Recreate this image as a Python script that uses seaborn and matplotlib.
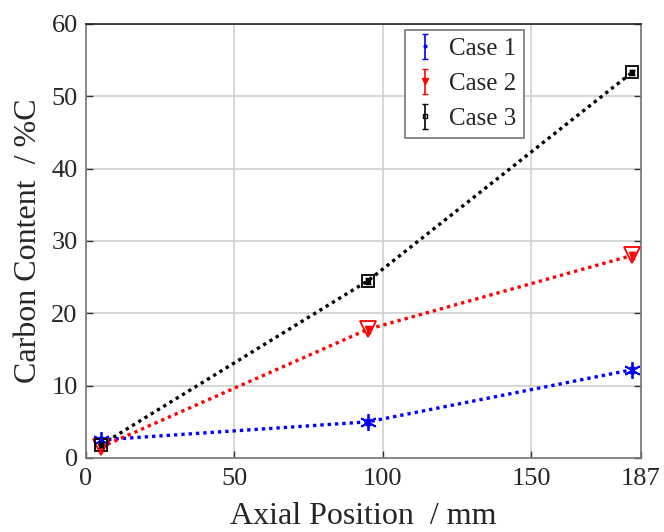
import matplotlib
matplotlib.use("Agg")
import matplotlib.pyplot as plt
import seaborn as sns
import numpy as np
import pandas as pd

positions = [5, 95, 184]
case1 = [2.5, 5.0, 12.2]
case2 = [1.5, 17.8, 28.0]
case3 = [1.8, 24.5, 53.3]
err1 = [0.4, 0.4, 0.4]
err2 = [0.5, 0.5, 0.5]
err3 = [0.4, 0.4, 0.4]
labels = ["Case 1", "Case 2", "Case 3"]
xticks = [0, 50, 100, 150, 187]
yticks = [0, 10, 20, 30, 40, 50, 60]

sns.set_style("whitegrid")
plt.rcParams['font.family'] = ['Liberation Serif', 'DejaVu Serif']

fig = plt.figure(figsize=(6.64, 5.32), dpi=100)
ax = fig.add_axes([0.1295, 0.1391, 0.8358, 0.8158])

colors = ["#0000ff", "#ff0000", "#000000"]
markers = [(6, 2, 0), "v", "s"]
msizes = [12, 11, 8]
efmts = [".", "v", "s"]
ems = [4, 4, 3.5]
efill = [True, True, False]
series = [case1, case2, case3]
errs = [err1, err2, err3]

df = pd.DataFrame({
    "x": positions * 3,
    "y": case1 + case2 + case3,
    "case": [labels[0]] * 3 + [labels[1]] * 3 + [labels[2]] * 3,
})

for i, lab in enumerate(labels):
    c = colors[i]
    ys = series[i]
    sub = df[df["case"] == lab]
    sns.lineplot(data=sub, x="x", y="y", ax=ax, color=c, linestyle=(0, (1, 1.2)),
                 linewidth=2.4, legend=False)
    ax.plot(positions, ys, linestyle="none", marker=markers[i], markersize=msizes[i],
            markerfacecolor="none", markeredgecolor=c, markeredgewidth=1.3, zorder=4)
    ax.errorbar(positions, ys, yerr=errs[i], fmt=efmts[i], color=c, markersize=ems[i],
                markerfacecolor=c if efill[i] else "none", markeredgecolor=c,
                elinewidth=1.2, capsize=2, label=lab, zorder=5)
    if not efill[i]:
        ax.plot(positions, ys, linestyle="none", marker=".", markersize=5, color=c, zorder=6)

ax.set_xlim(0, 187)
ax.set_ylim(0, 60)
ax.set_xticks(xticks)
ax.set_yticks(yticks)
ax.set_xticklabels([str(t) for t in xticks])
ax.set_yticklabels([str(t) for t in yticks])
ax.tick_params(axis="both", labelsize=19, colors="#333333", direction="in",
               length=5, width=1, top=False, right=True, left=True, bottom=True,
               labelcolor="#262626")
ax.tick_params(axis="x", pad=7)
ax.tick_params(axis="y", pad=6)
ax.grid(True, color="#d0d0d0", linewidth=1.2)
for s in ax.spines.values():
    s.set_visible(True)
    s.set_color("#777777")
    s.set_linewidth(1.2)
ax.spines["top"].set_color("#222222")

ax.set_xlabel("Axial Position  / mm", fontsize=23, color="#262626", labelpad=9)
ax.set_ylabel("Carbon Content  / %C", fontsize=23, color="#262626", labelpad=6)

leg = ax.legend(loc="upper left", bbox_to_anchor=(0.575, 0.986), borderaxespad=0,
                fontsize=18, frameon=True, fancybox=False, edgecolor="#777777",
                framealpha=1, handlelength=1.0, handletextpad=0.45, borderpad=0.3,
                labelspacing=0.5)
leg.get_frame().set_linewidth(1.2)

fig.savefig("out.png", dpi=100)
